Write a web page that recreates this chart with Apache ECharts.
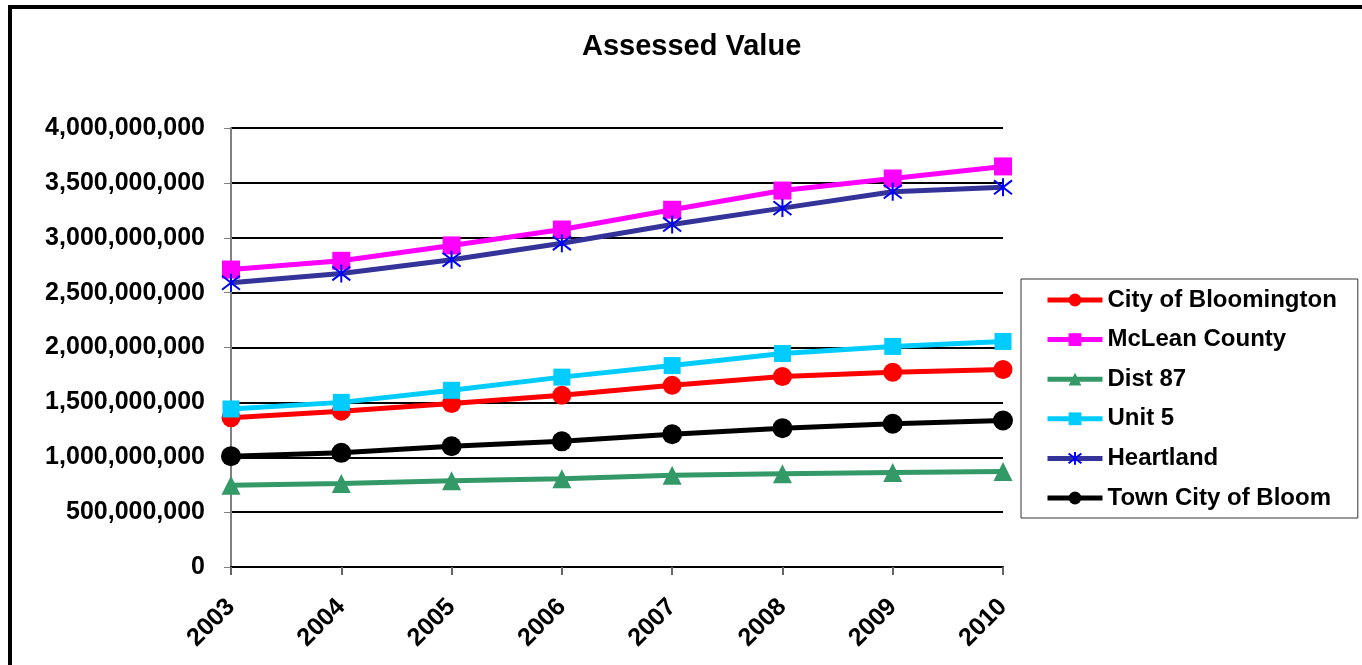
<!DOCTYPE html>
<html>
<head>
<meta charset="utf-8">
<script src="https://cdn.jsdelivr.net/npm/echarts@6/dist/echarts.min.js"></script>
<style>
html,body{margin:0;padding:0;background:#fff;}
#frame{position:absolute;left:8px;top:5px;width:1400px;height:700px;border-top:4px solid #000;border-left:4px solid #000;}
#chart{position:absolute;left:0;top:0;width:1362px;height:665px;}
</style>
</head>
<body>
<div id="frame"></div>
<div id="chart"></div>
<script>
const years = ['2003','2004','2005','2006','2007','2008','2009','2010'];
const cityOfBloomington = [1.36e9, 1.42e9, 1.49e9, 1.565e9, 1.655e9, 1.735e9, 1.775e9, 1.80e9];
const mcleanCounty = [2.71e9, 2.79e9, 2.93e9, 3.075e9, 3.255e9, 3.43e9, 3.54e9, 3.65e9];
const dist87 = [0.745e9, 0.76e9, 0.785e9, 0.805e9, 0.835e9, 0.85e9, 0.86e9, 0.87e9];
const unit5 = [1.44e9, 1.50e9, 1.61e9, 1.73e9, 1.835e9, 1.945e9, 2.01e9, 2.055e9];
const heartland = [2.59e9, 2.675e9, 2.80e9, 2.95e9, 3.12e9, 3.27e9, 3.42e9, 3.46e9];
const townCityOfBloom = [1.01e9, 1.04e9, 1.10e9, 1.145e9, 1.21e9, 1.265e9, 1.305e9, 1.335e9];

const FONT = '"Liberation Sans", Arial, sans-serif';
const asterisk = 'path://M0,0L10,10M10,0L0,10M5,-1.5L5,11.5';

function mk(name, data, color, symbol, size, extra) {
  const s = {
    name, type: 'line', data,
    symbol, symbolSize: size,
    lineStyle: {color, width: 5},
    itemStyle: {color},
    emphasis: {disabled: true},
    animation: false
  };
  return Object.assign(s, extra || {});
}

const chart = echarts.init(document.getElementById('chart'), null, {renderer: 'canvas'});
chart.setOption({
  backgroundColor: 'transparent',
  animation: false,
  title: {
    text: 'Assessed Value',
    left: 577, top: 27,
    textStyle: {fontFamily: FONT, fontWeight: 'bold', fontSize: 29, color: '#000'}
  },
  grid: {left: 231, right: 359, top: 128, bottom: 98},
  legend: {
    orient: 'vertical',
    left: 1021, top: 279,
    padding: [9, 21, 8, 24],
    borderColor: '#333', borderWidth: 1,
    itemWidth: 55, itemHeight: 16, itemGap: 15.6,
    lineStyle: {width: 5},
    textStyle: {fontFamily: FONT, fontWeight: 'bold', fontSize: 24, lineHeight: 24, color: '#000'},
    data: ['City of Bloomington','McLean County','Dist 87','Unit 5','Heartland','Town City of Bloom']
  },
  xAxis: {
    type: 'category', data: years, boundaryGap: false,
    axisLine: {lineStyle: {color: '#000', width: 2}},
    axisTick: {show: true, length: 8, lineStyle: {color: '#666', width: 2}, alignWithLabel: true},
    axisLabel: {rotate: 45, margin: 36, fontFamily: FONT, fontWeight: 'bold', fontSize: 25, color: '#000'},
    splitLine: {show: false}
  },
  yAxis: {
    type: 'value', min: 0, max: 4000000000, interval: 500000000,
    axisLine: {show: true, lineStyle: {color: '#808080', width: 2}},
    axisTick: {show: true, length: 7, lineStyle: {color: '#808080', width: 1}},
    axisLabel: {
      margin: 26, fontFamily: FONT, fontWeight: 'bold', fontSize: 25, color: '#000',
      formatter: v => v.toLocaleString('en-US')
    },
    splitLine: {lineStyle: {color: '#000', width: 2}}
  },
  series: [
    mk('City of Bloomington', cityOfBloomington, '#FF0000', 'circle', 19),
    mk('McLean County', mcleanCounty, '#FF00FF', 'rect', 18),
    mk('Dist 87', dist87, '#339966', 'triangle', 19),
    mk('Unit 5', unit5, '#00CCFF', 'rect', 17),
    mk('Heartland', heartland, '#333399', asterisk, 18,
       {itemStyle: {color: '#0000FF', borderColor: '#0000FF', borderWidth: 2}}),
    mk('Town City of Bloom', townCityOfBloom, '#000000', 'circle', 20)
  ]
});
</script>
</body>
</html>
